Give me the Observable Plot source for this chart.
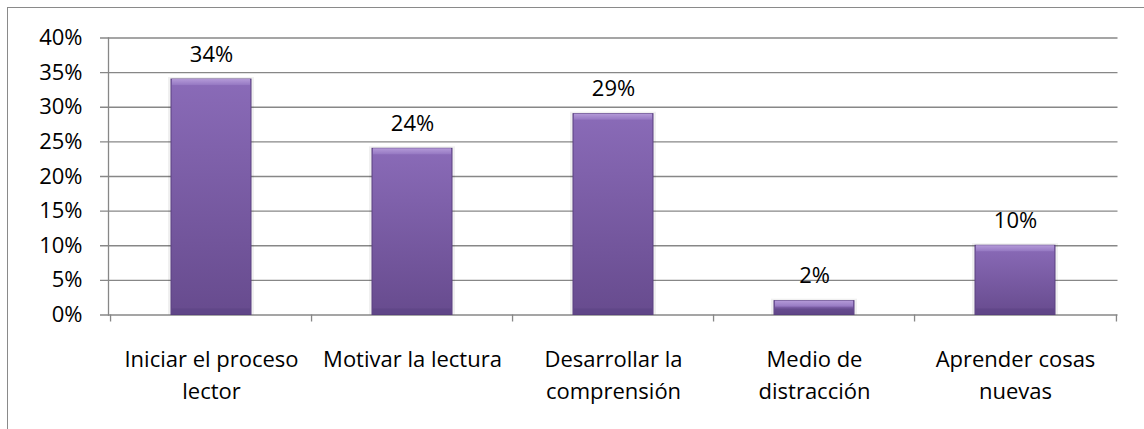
<!DOCTYPE html>
<html>
<head>
<meta charset="utf-8">
<script src="https://cdn.jsdelivr.net/npm/d3@7"></script>
<script src="https://cdn.jsdelivr.net/npm/@observablehq/plot@0.6"></script>
<style>
  html, body { margin: 0; padding: 0; background: #fff; }
  #wrap { position: relative; width: 1144px; height: 429px; overflow: hidden; }
  #border { position: absolute; left: 7px; top: 7px; width: 1200px; height: 500px; border: 1.5px solid #8a8a8a; pointer-events: none; }
  svg { position: absolute; left: 0; top: 0; }
</style>
</head>
<body>
<div id="wrap"><div id="border"></div></div>
<script>
const categories = ["Iniciar el proceso\nlector", "Motivar la lectura", "Desarrollar la\ncomprensión", "Medio de\ndistracción", "Aprender cosas\nnuevas"];
const values = [0.34, 0.24, 0.29, 0.02, 0.10];
const valueLabels = ["34%", "24%", "29%", "2%", "10%"];
const yTicks = [0, 0.05, 0.10, 0.15, 0.20, 0.25, 0.30, 0.35, 0.40];

const data = categories.map((c, i) => ({cat: c, value: values[i], label: valueLabels[i]}));

const W = 1144, H = 429;
const mL = 108, mR = 26.5, mT = 37.5, mB = 114.5;
const pInner = 0.6, pOuter = 0.3;
const step = (W - mL - mR) / (categories.length - pInner + 2 * pOuter);
const grid = "#878787";
const font = "Open Sans, sans-serif";

const chart = Plot.plot({
  width: W, height: H,
  marginLeft: mL, marginRight: mR, marginTop: mT, marginBottom: mB,
  style: {fontFamily: font, fontSize: "22px", color: "#000", background: "transparent"},
  x: {domain: categories, paddingInner: pInner, paddingOuter: pOuter, axis: null, label: null},
  y: {domain: [0, 0.4], axis: null, label: null},
  marks: [
    Plot.gridY(yTicks, {stroke: grid, strokeOpacity: 1, strokeWidth: 1.3, insetLeft: -8}),
    Plot.frame({anchor: "left", stroke: grid, strokeWidth: 1.3}),
    Plot.ruleX(categories, {x: d => d, y1: 0, y2: 0, insetBottom: -7, dx: -step / 2, stroke: grid, strokeWidth: 1.3}),
    Plot.ruleX([categories[categories.length - 1]], {x: d => d, y1: 0, y2: 0, insetBottom: -7, dx: step / 2, stroke: grid, strokeWidth: 1.3}),
    Plot.axisY(yTicks, {tickSize: 0, tickPadding: 26, label: null, tickFormat: d => Math.round(d * 100) + "%", fontSize: 22, fill: "#000"}),
    // soft shadow
    Plot.barY(data, {x: "cat", y1: 0, y2: "value", fill: "#000", fillOpacity: 0.06, insetLeft: -3, insetRight: -3, insetTop: -2}),
    // main bar body
    Plot.barY(data, {x: "cat", y1: 0, y2: "value", fill: "url(#barGrad)", stroke: "#5a4080", strokeWidth: 1}),
    // top bevel
    Plot.barY(data, {x: "cat", y1: "value", y2: "value", insetBottom: -6, insetLeft: 1, insetRight: 1, fill: "url(#topGrad)"}),
    // bottom bevel
    Plot.barY(data, {x: "cat", y1: 0, y2: 0, insetTop: -6, insetLeft: 1, insetRight: 1, fill: "#5c4283", fillOpacity: 0.6}),
    // value labels
    Plot.text(data, {x: "cat", y: "value", text: "label", lineAnchor: "bottom", dy: -18, fontSize: 22, fill: "#000"}),
    // category labels
    Plot.text(data, {x: "cat", y: 0, text: "cat", lineAnchor: "top", dy: 30, lineHeight: 1.43, fontSize: 22, fill: "#000"})
  ]
});

const defs = d3.select(chart).insert("defs", ":first-child");
const g = defs.append("linearGradient").attr("id", "barGrad").attr("x1", 0).attr("y1", 0).attr("x2", 0).attr("y2", 1);
g.append("stop").attr("offset", "0%").attr("stop-color", "#8a6bb8");
g.append("stop").attr("offset", "100%").attr("stop-color", "#674b8e");
const t = defs.append("linearGradient").attr("id", "topGrad").attr("x1", 0).attr("y1", 0).attr("x2", 0).attr("y2", 1);
t.append("stop").attr("offset", "0%").attr("stop-color", "#b49ad8");
t.append("stop").attr("offset", "100%").attr("stop-color", "#9578c2");

document.getElementById("wrap").appendChild(chart);
</script>
</body>
</html>
